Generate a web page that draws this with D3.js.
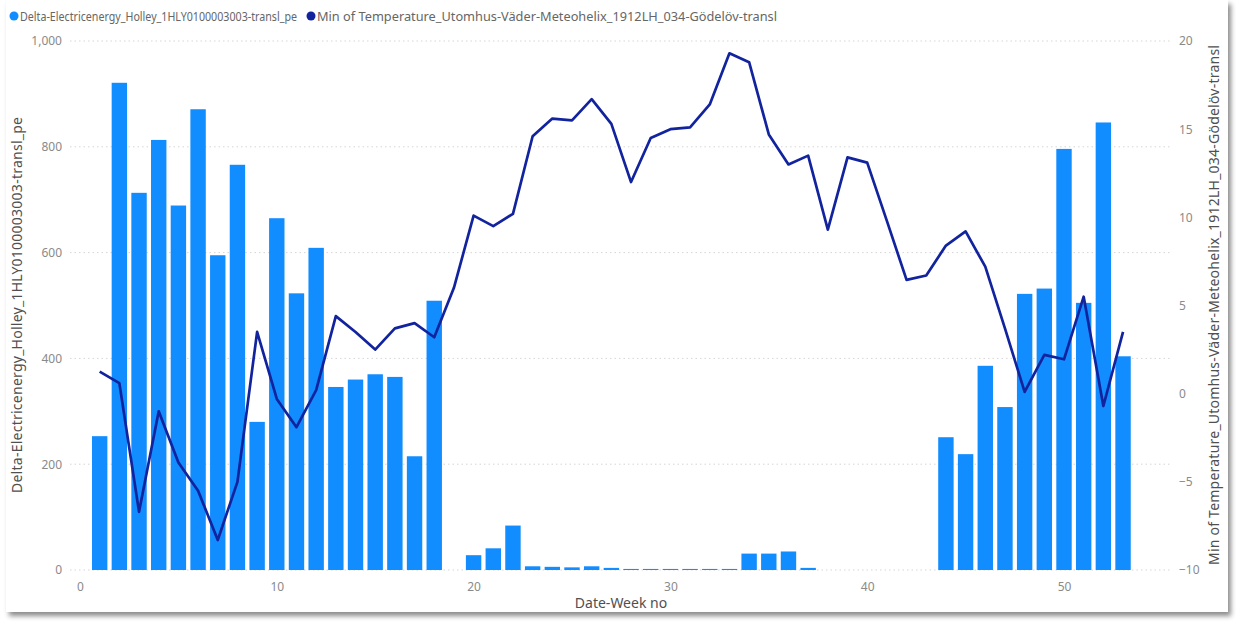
<!DOCTYPE html>
<html>
<head>
<meta charset="utf-8">
<script src="https://cdn.jsdelivr.net/npm/d3@7"></script>
<style>
  body { margin: 0; background: #fff; }
  svg text { font-family: 'Segoe UI', 'Noto Sans', sans-serif; }
</style>
</head>
<body>
<div id="chart"></div>
<script>
var weeks = d3.range(1, 54);

// kWh per week (null = no reading)
var energy = [
  253, 921, 713, 813, 689, 871, 595, 766, 280, 665,
  523, 609, 346, 360, 370, 365, 215, 509, null, 28,
  41, 84, 7, 6, 5, 7, 4, 2, 2, 2,
  2, 2, 2, 31, 31, 35, 4, null, null, null,
  null, null, null, 251, 219, 386, 308, 522, 532, 796,
  505, 846, 404
];

var minTemp = [
  1.25, 0.6, -6.7, -1.0, -3.9, -5.5, -8.3, -5.0, 3.5, -0.3,
  -1.9, 0.2, 4.4, 3.5, 2.5, 3.7, 4.0, 3.2, 6.0, 10.1,
  9.5, 10.2, 14.6, 15.6, 15.5, 16.7, 15.3, 12.0, 14.5, 15.0,
  15.1, 16.4, 19.3, 18.8, 14.7, 13.0, 13.5, 9.3, 13.4, 13.1,
  9.8, 6.45, 6.7, 8.4, 9.2, 7.2, 3.7, 0.1, 2.2, 1.95,
  5.5, -0.7, 3.5
];

var xTicks = [0, 10, 20, 30, 40, 50],
    leftTicks = [0, 200, 400, 600, 800, 1000],
    rightTicks = [-10, -5, 0, 5, 10, 15, 20];

var energyName = 'Delta-Electricenergy_Holley_1HLY0100003003-transl_pe',
    tempName = 'Min of Temperature_Utomhus-Väder-Meteohelix_1912LH_034-Gödelöv-transl',
    xName = 'Date-Week no';

var W = 1236,
    H = 622,
    BAR_COLOR = '#118DFF',
    LINE_COLOR = '#12239E',
    TICK_COLOR = '#8a8a8a',
    TITLE_COLOR = '#505050',
    GRID_COLOR = '#d6d6d6';

var svg = d3.select('#chart')
  .append('svg')
  .attr('width', W)
  .attr('height', H);

// card with drop shadow
var defs = svg.append('defs');
var filter = defs.append('filter').attr('id', 'shadow')
  .attr('x', '-5%').attr('y', '-5%').attr('width', '110%').attr('height', '110%');
filter.append('feDropShadow')
  .attr('dx', 3).attr('dy', 4).attr('stdDeviation', 2.5)
  .attr('flood-color', '#000').attr('flood-opacity', 0.45);

svg.append('rect')
  .attr('x', 6).attr('y', 0)
  .attr('width', 1222).attr('height', 612)
  .attr('fill', '#fff')
  .attr('filter', 'url(#shadow)');

var x = d3.scaleLinear().domain([0, 55]).range([80, 80 + 55 * 19.68]),
    yLeft = d3.scaleLinear().domain([0, 1000]).range([570, 41]),
    yRight = d3.scaleLinear().domain([-10, 20]).range([570, 41]);

var GRID_X1 = 70, GRID_X2 = 1170, BAR_W = 15.4;

// gridlines from the left axis
svg.append('g')
  .selectAll('line')
  .data(leftTicks)
  .enter()
  .append('line')
  .attr('x1', GRID_X1)
  .attr('x2', GRID_X2)
  .attr('y1', function(d) { return yLeft(d); })
  .attr('y2', function(d) { return yLeft(d); })
  .attr('stroke', GRID_COLOR)
  .attr('stroke-width', 1)
  .attr('stroke-dasharray', '1.5,3');

// left axis
var leftAxis = svg.append('g')
  .attr('transform', 'translate(62,0)')
  .call(d3.axisLeft(yLeft).tickValues(leftTicks).tickSize(0).tickPadding(0).tickFormat(d3.format(',')));
leftAxis.select('.domain').remove();
leftAxis.selectAll('text')
  .attr('fill', TICK_COLOR)
  .style('font-size', '12px');

// right axis
var rightAxis = svg.append('g')
  .attr('transform', 'translate(1179,0)')
  .call(d3.axisRight(yRight).tickValues(rightTicks).tickSize(0).tickPadding(0));
rightAxis.select('.domain').remove();
rightAxis.selectAll('text')
  .attr('fill', TICK_COLOR)
  .style('font-size', '12px');

// bottom axis
var bottomAxis = svg.append('g')
  .attr('transform', 'translate(0,575)')
  .call(d3.axisBottom(x).tickValues(xTicks).tickSize(0).tickPadding(7));
bottomAxis.select('.domain').remove();
bottomAxis.selectAll('text')
  .attr('fill', TICK_COLOR)
  .style('font-size', '12px');

// bars
var barData = weeks.map(function(w, i) { return { week: w, value: energy[i] }; })
  .filter(function(d) { return d.value !== null; });

svg.append('g')
  .selectAll('rect.bar')
  .data(barData)
  .enter()
  .append('rect')
  .attr('class', 'bar')
  .attr('x', function(d) { return x(d.week) - BAR_W / 2; })
  .attr('width', BAR_W)
  .attr('y', function(d) { return yLeft(d.value); })
  .attr('height', function(d) { return yLeft(0) - yLeft(d.value); })
  .style('fill', BAR_COLOR);

// temperature line
var line = d3.line()
  .x(function(d, i) { return x(weeks[i]); })
  .y(function(d) { return yRight(d); });

svg.append('path')
  .datum(minTemp)
  .attr('d', line)
  .attr('fill', 'none')
  .attr('stroke', LINE_COLOR)
  .attr('stroke-width', 2.7)
  .attr('stroke-linejoin', 'round');

// axis titles
svg.append('text')
  .attr('transform', 'translate(22,305) rotate(-90)')
  .attr('text-anchor', 'middle')
  .attr('fill', TITLE_COLOR)
  .attr('textLength', 376)
  .style('font-size', '14px')
  .text(energyName);

svg.append('text')
  .attr('transform', 'translate(1219,305) rotate(-90)')
  .attr('text-anchor', 'middle')
  .attr('fill', TITLE_COLOR)
  .attr('textLength', 520)
  .style('font-size', '14px')
  .text(tempName);

svg.append('text')
  .attr('x', 621)
  .attr('y', 608)
  .attr('text-anchor', 'middle')
  .attr('fill', TITLE_COLOR)
  .style('font-size', '14px')
  .text(xName);

// legend: dot position and text width as in the picture
var legendItems = [
  { name: energyName, color: BAR_COLOR, x: 14, width: 277 },
  { name: tempName, color: LINE_COLOR, x: 311, width: 460 }
];
legendItems.forEach(function(item) {
  svg.append('circle')
    .attr('cx', item.x)
    .attr('cy', 16)
    .attr('r', 4.5)
    .attr('fill', item.color);
  svg.append('text')
    .attr('x', item.x + 6)
    .attr('y', 20.5)
    .attr('fill', '#666')
    .attr('textLength', item.width)
    .attr('lengthAdjust', 'spacingAndGlyphs')
    .style('font-size', '12px')
    .text(item.name);
});
</script>
</body>
</html>
